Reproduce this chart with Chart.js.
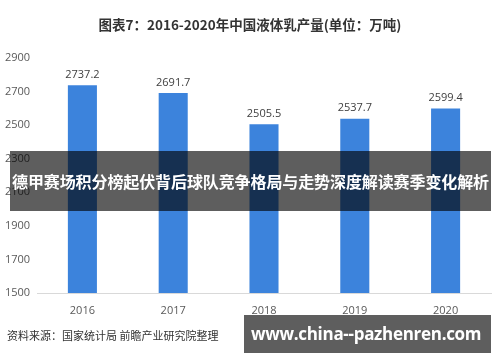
<!DOCTYPE html>
<html lang="zh-CN">
<head>
    <meta charset="UTF-8">
    <title>图表7：2016-2020年中国液体乳产量</title>
    <script src="https://cdn.jsdelivr.net/npm/chart.js"></script>
    <style>
        body {
            margin: 0;
            background: #ffffff;
            font-family: "Noto Sans CJK SC", "Noto Sans", sans-serif;
        }
        .wrap {
            position: relative;
            width: 500px;
            height: 362px;
            overflow: hidden;
        }
        #milkChart {
            position: absolute;
            left: 0;
            top: 0;
        }
        .title {
            position: absolute;
            left: 0;
            top: 14px;
            width: 500px;
            text-align: center;
            font-size: 13.5px;
            font-weight: bold;
            color: #333333;
        }
        .source {
            position: absolute;
            left: 7px;
            top: 327px;
            font-size: 11px;
            color: #333333;
        }
        .banner {
            position: absolute;
            left: 10px;
            top: 151px;
            width: 481px;
            height: 60px;
            background: rgba(0, 0, 0, 0.63);
            color: #ffffff;
            font-size: 16px;
            font-weight: bold;
            line-height: 60px;
            text-align: center;
            white-space: nowrap;
            letter-spacing: -0.1px;
        }
        .site {
            position: absolute;
            left: 244px;
            top: 315px;
            width: 247px;
            height: 38px;
            background: rgba(0, 0, 0, 0.63);
            color: #ffffff;
            font-family: "Open Sans", "DejaVu Sans", sans-serif;
            font-size: 17px;
            font-weight: bold;
            line-height: 38px;
            padding-left: 7px;
            box-sizing: border-box;
            white-space: nowrap;
            letter-spacing: -0.3px;
        }
    </style>
</head>
<body>
    <div class="wrap">
        <canvas id="milkChart" width="500" height="362"></canvas>
        <div class="title">图表7：2016-2020年中国液体乳产量(单位：万吨)</div>
        <div class="banner">德甲赛场积分榜起伏背后球队竞争格局与走势深度解读赛季变化解析</div>
        <div class="source">资料来源：国家统计局 前瞻产业研究院整理</div>
        <div class="site">www.china--pazhenren.com</div>
    </div>

    <script>
        // 数据
        const years = ['2016', '2017', '2018', '2019', '2020'];
        const output = [2737.2, 2691.7, 2505.5, 2537.7, 2599.4];
        const yTicks = [1500, 1700, 1900, 2100, 2300, 2500, 2700, 2900];

        // 柱顶数值
        const barLabels = {
            id: 'barLabels',
            afterDatasetsDraw(chart) {
                const ctx = chart.ctx;
                const meta = chart.getDatasetMeta(0);
                ctx.save();
                ctx.fillStyle = '#404040';
                ctx.font = '11px "Open Sans", "DejaVu Sans", sans-serif';
                ctx.textAlign = 'center';
                ctx.textBaseline = 'bottom';
                meta.data.forEach((bar, i) => {
                    ctx.fillText(output[i].toFixed(1), bar.x, bar.y - 5);
                });
                ctx.restore();
            }
        };

        new Chart(document.getElementById('milkChart'), {
            type: 'bar',
            data: {
                labels: years,
                datasets: [{
                    data: output,
                    backgroundColor: '#3c83dc',
                    categoryPercentage: 1,
                    barPercentage: 0.32
                }]
            },
            options: {
                responsive: false,
                animation: false,
                layout: { padding: { top: 58, right: 9, bottom: 39, left: 5 } },
                plugins: {
                    legend: { display: false },
                    tooltip: { enabled: false }
                },
                scales: {
                    x: {
                        grid: { display: false },
                        border: { color: '#d9d9d9' },
                        ticks: {
                            color: '#595959',
                            font: { size: 11, family: '"Open Sans", "DejaVu Sans", sans-serif' },
                            padding: 3
                        },
                        afterFit: (scale) => { scale.height = 30; }
                    },
                    y: {
                        min: yTicks[0],
                        max: yTicks[yTicks.length - 1],
                        grid: { display: false },
                        border: { display: false },
                        afterBuildTicks: (scale) => {
                            scale.ticks = yTicks.map(v => ({ value: v }));
                        },
                        ticks: {
                            color: '#595959',
                            font: { size: 11, family: '"Open Sans", "DejaVu Sans", sans-serif' },
                            crossAlign: 'far',
                            padding: 0,
                            callback: (v) => String(v)
                        },
                        afterFit: (scale) => { scale.width = 32; }
                    }
                }
            },
            plugins: [barLabels]
        });
    </script>
</body>
</html>
